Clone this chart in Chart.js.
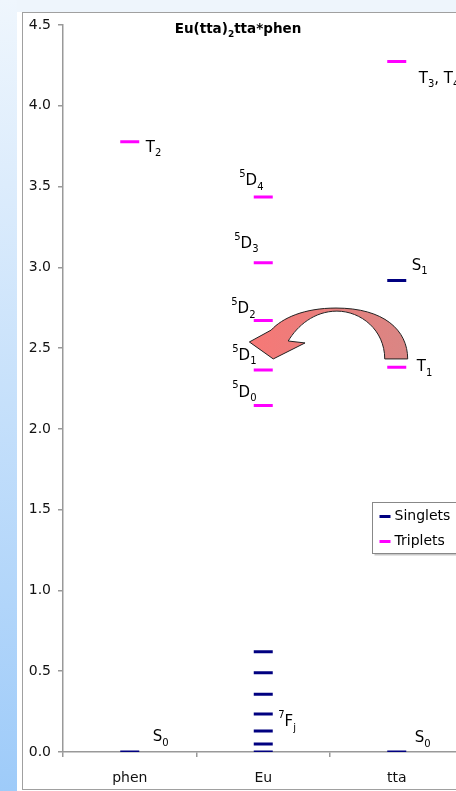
<!DOCTYPE html>
<html>
<head>
<meta charset="utf-8">
<script src="https://cdn.jsdelivr.net/npm/chart.js@4.4.1/dist/chart.umd.min.js"></script>
<style>
  html, body { margin: 0; padding: 0; width: 456px; height: 791px; overflow: hidden; background: #fff; }
  #band { position: absolute; left: 0; top: 0; width: 456px; height: 12px; background: #eef5fc; }
  #strip { position: absolute; left: 0; top: 0; width: 17px; height: 791px; background: linear-gradient(#eff6fd, #9ecbf9); }
  #box { position: absolute; left: 22px; top: 12px; width: 480px; height: 776px; border: 1px solid #a0a0a0; background: #fff; }
  #wrap { position: absolute; left: 0; top: 0; width: 476px; height: 791px; }
</style>
</head>
<body>
<div id="band"></div>
<div id="strip"></div>
<div id="box"></div>
<div id="wrap"><canvas id="myChart"></canvas></div>
<script>
// Energy levels (eV)
const categories = ['phen', 'Eu', 'tta'];
const singletCats = ['phen', 'Eu', 'Eu', 'Eu', 'Eu', 'Eu', 'Eu', 'Eu', 'tta', 'tta'];
const singletValues = [0, 0, 0.05, 0.13, 0.235, 0.357, 0.49, 0.62, 0, 2.918];
const tripletCats = ['phen', 'Eu', 'Eu', 'Eu', 'Eu', 'Eu', 'tta', 'tta'];
const tripletValues = [3.777, 2.144, 2.365, 2.671, 3.028, 3.435, 2.382, 4.274];
const yTicks = [0, 0.5, 1, 1.5, 2, 2.5, 3, 3.5, 4, 4.5];

// Level names: which level they belong to, and the text pieces
const levelLabels = [
  { cat: 'phen', y: 3.777, parts: [['T'], ['2', 'sub']] },
  { cat: 'phen', y: 0, parts: [['S'], ['0', 'sub']] },
  { cat: 'tta', y: 0, parts: [['S'], ['0', 'sub']] },
  { cat: 'tta', y: 2.918, parts: [['S'], ['1', 'sub']] },
  { cat: 'tta', y: 2.382, parts: [['T'], ['1', 'sub']] },
  { cat: 'tta', y: 4.274, parts: [['T'], ['3', 'sub'], [', T'], ['4', 'sub']] },
  { cat: 'Eu', y: 3.435, parts: [['5', 'sup'], ['D'], ['4', 'sub']] },
  { cat: 'Eu', y: 3.028, parts: [['5', 'sup'], ['D'], ['3', 'sub']] },
  { cat: 'Eu', y: 2.671, parts: [['5', 'sup'], ['D'], ['2', 'sub']] },
  { cat: 'Eu', y: 2.365, parts: [['5', 'sup'], ['D'], ['1', 'sub']] },
  { cat: 'Eu', y: 2.144, parts: [['5', 'sup'], ['D'], ['0', 'sub']] },
  { cat: 'Eu', y: 0.235, parts: [['7', 'sup'], ['F'], ['j', 'sub']] }
];
// offset of each label from its level (px)
const labelOffsets = [[16, 10], [23, -11], [18, -10], [15, -11], [20, 4], [22, 21],
  [-24, -12], [-29, -15], [-32, -7], [-31, -10], [-31, -9], [15, 12]];

// transfer arrow from tta T1 to Eu 5D: [fraction between Eu and tta, energy]
const arrowPath = [
  ['M', 1.082, 2.433],
  ['C', 1.082, 2.612, 0.903, 2.748, 0.545, 2.748],
  ['C', 0.306, 2.748, 0.142, 2.686, 0.060, 2.612],
  ['L', -0.104, 2.538],
  ['L', 0.075, 2.433],
  ['L', 0.313, 2.532],
  ['L', 0.187, 2.544],
  ['C', 0.254, 2.637, 0.381, 2.729, 0.552, 2.729],
  ['C', 0.731, 2.729, 0.910, 2.612, 0.910, 2.433]
];

const FONT = '"DejaVu Sans", sans-serif';

function drawRich(ctx, parts, x, y, size, bold, measureOnly) {
  let cx = x;
  parts.forEach(([t, k]) => {
    const fs = k ? Math.round(size * 0.68) : size;
    ctx.font = (bold ? 'bold ' : '') + fs + 'px ' + FONT;
    const dy = k === 'sup' ? -size * 0.55 : k === 'sub' ? size * 0.3 : 0;
    if (!measureOnly) ctx.fillText(t, cx, y + dy);
    cx += ctx.measureText(t).width;
  });
  return cx - x;
}

const decorPlugin = {
  id: 'decor',
  afterDatasetsDraw(chart) {
    const ctx = chart.ctx;
    const xs = chart.scales.x, ys = chart.scales.y;
    ctx.save();
    ctx.textAlign = 'left';
    ctx.textBaseline = 'alphabetic';
    ctx.fillStyle = '#000';

    // title
    const title = [['Eu(tta)'], ['2', 'sub'], ['tta*phen']];
    const w = drawRich(ctx, title, 0, 0, 13.5, true, true);
    drawRich(ctx, title, chart.width / 2 - w / 2, 33, 13.5, true);

    // level names
    levelLabels.forEach((l, i) => {
      const x = xs.getPixelForValue(categories.indexOf(l.cat)) + labelOffsets[i][0];
      const y = ys.getPixelForValue(l.y) + labelOffsets[i][1];
      drawRich(ctx, l.parts, x, y, 15);
    });

    // arrow
    const xE = xs.getPixelForValue(1), xT = xs.getPixelForValue(2);
    const px = f => xE + f * (xT - xE);
    const py = v => ys.getPixelForValue(v);
    ctx.beginPath();
    arrowPath.forEach(s => {
      if (s[0] === 'M') ctx.moveTo(px(s[1]), py(s[2]));
      else if (s[0] === 'L') ctx.lineTo(px(s[1]), py(s[2]));
      else ctx.bezierCurveTo(px(s[1]), py(s[2]), px(s[3]), py(s[4]), px(s[5]), py(s[6]));
    });
    ctx.closePath();
    const g = ctx.createLinearGradient(px(-0.1), 0, px(1.08), 0);
    g.addColorStop(0, '#f77876');
    g.addColorStop(1, '#d98684');
    ctx.fillStyle = g;
    ctx.fill();
    ctx.strokeStyle = '#222';
    ctx.lineWidth = 1;
    ctx.stroke();

    // legend
    const lx = 372.5, ly = 502.5;
    ctx.fillStyle = '#c8c8c8';
    ctx.fillRect(lx + 2, ly + 2, 100, 51);
    ctx.fillStyle = '#fff';
    ctx.fillRect(lx, ly, 100, 51);
    ctx.strokeStyle = '#888';
    ctx.strokeRect(lx, ly, 100, 51);
    ctx.font = '14px ' + FONT;
    ctx.textBaseline = 'middle';
    chart.data.datasets.forEach((ds, i) => {
      const yy = ly + 14 + i * 25;
      ctx.strokeStyle = ds.borderColor;
      ctx.lineWidth = 3;
      ctx.beginPath();
      ctx.moveTo(lx + 7, yy);
      ctx.lineTo(lx + 18, yy);
      ctx.stroke();
      ctx.fillStyle = '#000';
      ctx.fillText(ds.label, lx + 22, yy);
    });
    ctx.restore();
  }
};

const ctx = document.getElementById('myChart').getContext('2d');
const myChart = new Chart(ctx, {
  type: 'line',
  data: {
    labels: categories,
    datasets: [{
      label: 'Singlets',
      data: singletCats.map((c, i) => ({ x: c, y: singletValues[i] })),
      borderColor: '#000080',
      backgroundColor: '#000080'
    }, {
      label: 'Triplets',
      data: tripletCats.map((c, i) => ({ x: c, y: tripletValues[i] })),
      borderColor: '#ff00ff',
      backgroundColor: '#ff00ff'
    }]
  },
  options: {
    responsive: true,
    maintainAspectRatio: false,
    animation: false,
    events: [],
    showLine: false,
    elements: {
      point: { pointStyle: 'line', radius: 9.5, hoverRadius: 9.5, borderWidth: 3 }
    },
    layout: { padding: { left: 22, top: 25, right: 11, bottom: 0 } },
    plugins: { legend: { display: false }, tooltip: { enabled: false } },
    scales: {
      x: {
        type: 'category',
        offset: true,
        afterFit: s => { s.height = 39; },
        border: { color: '#999', width: 1.5 },
        grid: { offset: true, drawOnChartArea: false, tickLength: 5, color: '#999', lineWidth: 1.5 },
        ticks: { color: '#111', padding: 13, font: { family: FONT, size: 14 } }
      },
      y: {
        min: 0,
        max: 4.5,
        afterFit: s => { s.width = 41; },
        afterBuildTicks: s => { s.ticks = yTicks.map(v => ({ value: v })); },
        border: { color: '#999', width: 1.5 },
        grid: { drawOnChartArea: false, tickLength: 5, color: '#999', lineWidth: 1.5 },
        ticks: { color: '#111', padding: 7, font: { family: FONT, size: 14 }, callback: v => v.toFixed(1) }
      }
    }
  },
  plugins: [decorPlugin]
});
</script>
</body>
</html>
